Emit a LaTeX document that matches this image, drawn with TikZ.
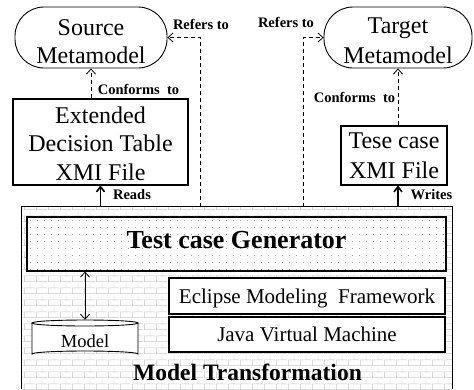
\documentclass[tikz,border=0pt]{standalone}
\usepackage{fontspec}
\setmainfont{Liberation Serif}
\usetikzlibrary{arrows.meta,patterns}
\pgfdeclarepatternformonly{mybricks}{\pgfpointorigin}{\pgfpoint{12pt}{12pt}}{\pgfpoint{12pt}{12pt}}{%
  \pgfsetlinewidth{0.5pt}%
  \pgfpathmoveto{\pgfpoint{0pt}{0.5pt}}\pgfpathlineto{\pgfpoint{12pt}{0.5pt}}%
  \pgfpathmoveto{\pgfpoint{0pt}{6.5pt}}\pgfpathlineto{\pgfpoint{12pt}{6.5pt}}%
  \pgfpathmoveto{\pgfpoint{0.5pt}{0.5pt}}\pgfpathlineto{\pgfpoint{0.5pt}{6.5pt}}%
  \pgfpathmoveto{\pgfpoint{6.5pt}{6.5pt}}\pgfpathlineto{\pgfpoint{6.5pt}{12pt}}%
  \pgfusepath{stroke}}
\begin{document}
\begin{tikzpicture}[x=1pt,y=-1pt,
  box/.style={draw,line width=1.1pt,fill=white,inner sep=0pt,align=center},
  lab/.style={font=\bfseries\fontsize{14.5}{16}\selectfont,anchor=base,inner sep=0pt},
  dsh/.style={dash pattern=on 4pt off 3pt,line width=0.8pt,-{Straight Barb[length=5pt,width=9pt]}},
  solidarr/.style={line width=1.6pt,-{Straight Barb[length=5pt,width=8pt]}},
  dbl/.style={line width=0.8pt,{Straight Barb[length=5pt,width=9pt]}-{Straight Barb[length=5pt,width=9pt]}},
  dotfill/.style={fill=gray!75}]
\useasboundingbox (0,0) rectangle (474,389);
% outer model transformation area
\node[pattern=mybricks,pattern color=gray!45,minimum width=430pt,minimum height=182pt,inner sep=0pt] (mt) at (237,298) {};
\draw[line width=1.1pt] (mt.south west) -- (mt.north west) -- (mt.north east) -- (mt.south east);
\node[font=\bfseries\fontsize{23.5}{26}\selectfont,anchor=base,inner sep=0pt] (mtl) at (247.5,380) {Model Transformation};
% generator
\fill[white] (27,217) rectangle (446,271);
\foreach \i in {0,...,59}{\foreach \j in {0,...,7}{
  \fill[dotfill] (30.5+7*\i,220.5+7*\j) circle[radius=0.6pt];}}
\node[draw,line width=1.1pt,minimum width=419pt,minimum height=54pt,inner sep=0pt,
  font=\bfseries\fontsize{26}{28}\selectfont,text depth=9pt] (gen) at (236.5,244) {Test case Generator};
% EMF and JVM
\node[box,minimum width=276pt,minimum height=36pt,font=\fontsize{21}{24}\selectfont,text height=14pt,text depth=0pt] (emf) at (307,296) {Eclipse Modeling\ \ Framework};
\node[box,minimum width=276pt,minimum height=35pt,font=\fontsize{21}{24}\selectfont,text height=14.4pt,text depth=0pt] (jvm) at (307,334.5) {Java Virtual Machine};
% model cylinder
\node[minimum width=106pt,minimum height=37pt,inner sep=0pt] (model) at (85,338.5) {};
\fill[white] (32,323) -- (32,354) arc[start angle=180,end angle=360,x radius=53,y radius=3] -- (138,323) -- cycle;
\draw[line width=0.9pt] (32,323) -- (32,354) arc[start angle=180,end angle=360,x radius=53,y radius=3] -- (138,323);
\draw[line width=0.9pt,fill=white] (85,323) ellipse[x radius=53,y radius=3];
\node[font=\fontsize{18.5}{20}\selectfont,anchor=base,inner sep=0pt] (modell) at (85,347) {Model};
% metamodels
\node[draw,line width=0.9pt,rounded corners=29pt,minimum width=152pt,minimum height=61pt,inner sep=0pt,align=center,
  font=\fontsize{24}{27.5}\selectfont,text height=51pt,text depth=0pt] (src) at (91,37.5) {Source\\Metamodel};
\node[draw,line width=0.9pt,rounded corners=29pt,minimum width=148pt,minimum height=61pt,inner sep=0pt,align=center,
  font=\fontsize{24}{30}\selectfont,text height=51pt,text depth=0pt] (tgt) at (398,37.5) {Target\\Metamodel};
% files
\node[box,minimum width=175pt,minimum height=86pt,font=\fontsize{24}{28.5}\selectfont,text height=76pt,text depth=0pt] (ext) at (100.5,142) {Extended\\Decision Table\\XMI File};
\node[box,minimum width=106pt,minimum height=59pt,font=\fontsize{24}{30}\selectfont,text height=45pt,text depth=0pt] (tese) at (394,155.5) {Tese case\\XMI File};
% connectors
\coordinate (rl) at (200,207);
\coordinate (rr) at (303,207);
\draw[dsh] (rl) |- (src.east);
\draw[dsh] (rr) |- (tgt.west);
\draw[dsh] (src.south |- ext.north) -- (src.south);
\draw[dsh] (tgt.south |- tese.north) -- (tgt.south);
\draw[solidarr] (ext.south |- mt.north) -- (ext.south);
\draw[solidarr] ([xshift=4pt]tese.south |- mt.north) -- ([xshift=4pt]tese.south);
\draw[dbl] (model.north |- gen.south) -- (model.north);
% labels
\node[lab] (l1) at (201,29) {Refers to};
\node[lab] (l2) at (286,27) {Refers to};
\node[lab] (l3) at (138.5,94) {Conforms\ \ to};
\node[lab] (l4) at (354.5,102) {Conforms\ \ to};
\node[lab] (l5) at (132,199) {Reads};
\node[lab] (l6) at (431.5,199) {Writes};
\end{tikzpicture}
\end{document}
